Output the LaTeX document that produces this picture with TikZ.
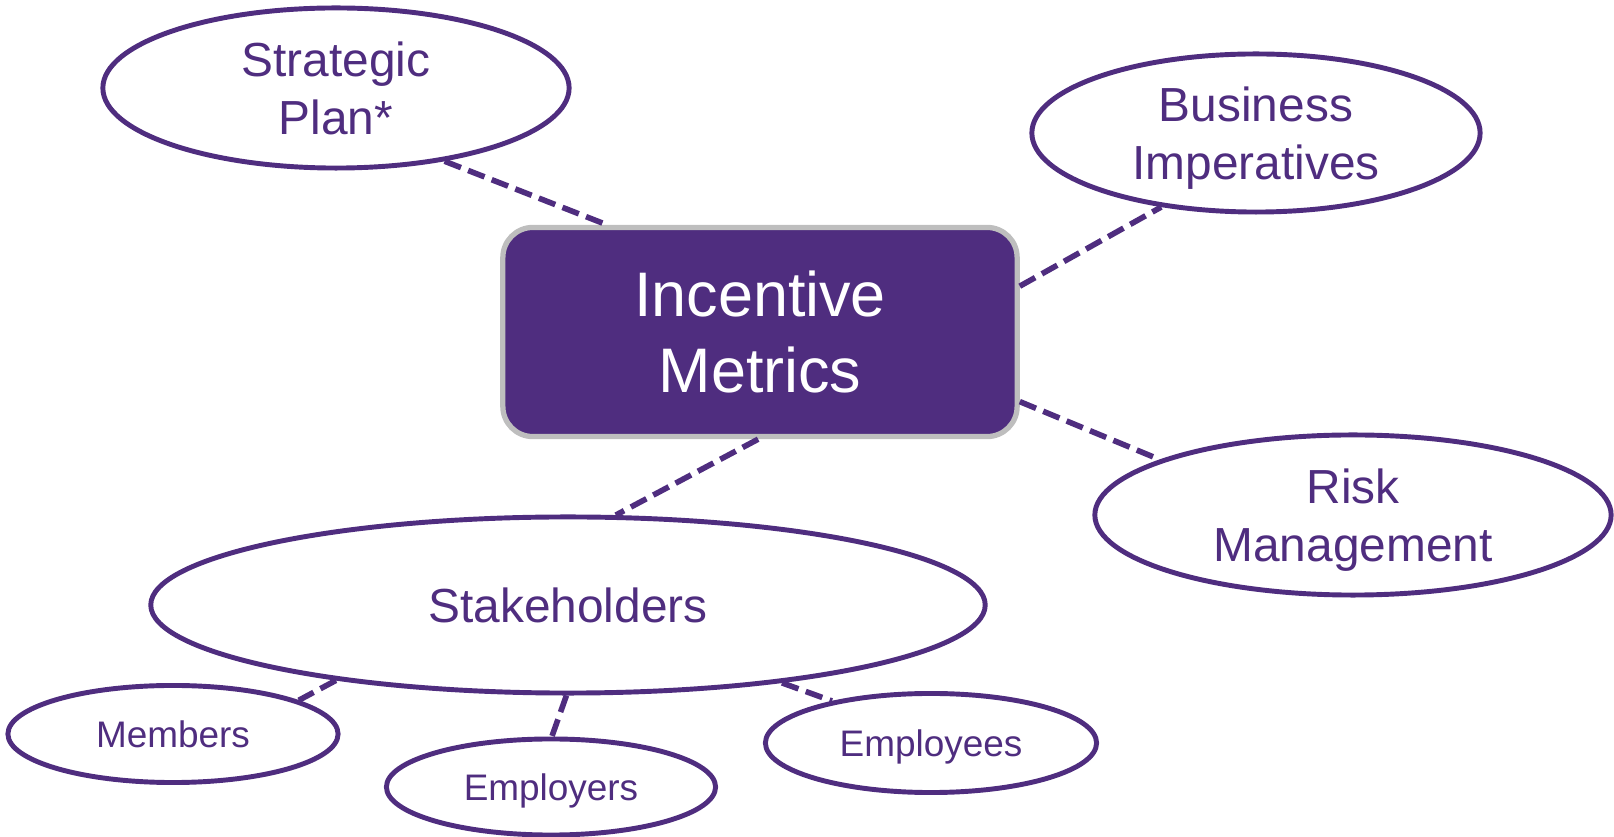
\documentclass[tikz,border=0pt]{standalone}
\usepackage{fontspec}
\setmainfont{Liberation Sans}
\usetikzlibrary{shapes.geometric}
\definecolor{plum}{RGB}{79,45,127}
\definecolor{rimgray}{RGB}{190,190,190}
\begin{document}
\begin{tikzpicture}[x=0.01cm, y=-0.01cm,
  bubble/.style={ellipse, draw=plum, line width=1.4pt, fill=white, inner sep=0pt,
    text=plum, align=center, text depth=0pt, font=\fontsize{13.6}{16.5}\selectfont},
  smallbubble/.style={bubble, font=\fontsize{10.5}{12.6}\selectfont},
  hub/.style={rectangle, rounded corners=0.3cm, draw=rimgray, line width=1.5pt,
    fill=plum, text=white, align=center, inner sep=0pt,
    font=\fontsize{17.9}{21.4}\selectfont},
  link/.style={draw=plum, line width=1.6pt, dash pattern=on 5pt off 2.2pt}]
\useasboundingbox (0,0) rectangle (1614,837);

% central box
\node[hub, minimum width=5.14cm, minimum height=2.09cm] (im) at (760,332) {Incentive\\Metrics};

% surrounding ellipses
\node[bubble, minimum width=4.66cm, minimum height=1.60cm] (sp) at (336,88) {Strategic\\Plan*};
\node[bubble, minimum width=4.48cm, minimum height=1.58cm] (bi) at (1256,133) {Business\\Imperatives};
\node[bubble, minimum width=5.16cm, minimum height=1.60cm] (rm) at (1353,515) {Risk\\Management};
\node[bubble, minimum width=8.34cm, minimum height=1.76cm] (sh) at (568,605) {Stakeholders};

% stakeholder groups
\node[smallbubble, minimum width=3.30cm, minimum height=0.97cm] (mb) at (173,734) {Members};
\node[smallbubble, minimum width=3.29cm, minimum height=0.96cm] (er) at (551,787) {Employers};
\node[smallbubble, minimum width=3.31cm, minimum height=0.99cm] (ee) at (931,743) {Employees};

% dashed connectors
\draw[link] (sp.-34) -- (im.145);
\draw[link] (im.10) -- (bi.-142);
\draw[link] (im.-15) -- (rm.164);
\draw[link] (im.-91) -- (sh.62);
\draw[link] (sh.-162) -- (mb.15);
\draw[link] (sh.-91) -- (er.89);
\draw[link] (sh.-20) -- (ee.157);
\end{tikzpicture}
\end{document}
